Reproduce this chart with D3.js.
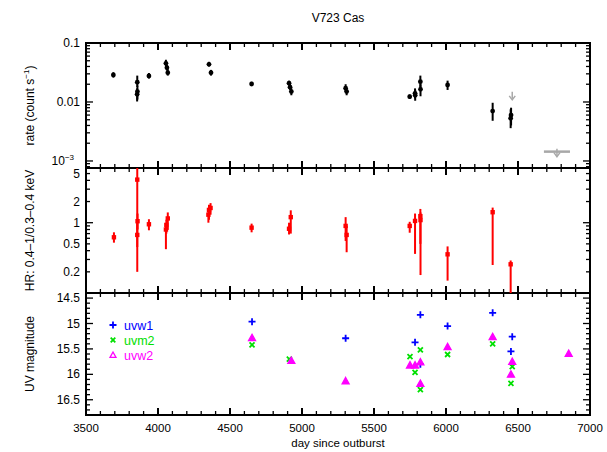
<!DOCTYPE html>
<html><head><meta charset="utf-8">
<script src="https://cdn.jsdelivr.net/npm/d3@7/dist/d3.min.js"></script>
<style>
body{margin:0;background:#fff;}
text{font-family:"Liberation Sans",Arial,Helvetica,sans-serif;}
</style></head>
<body><svg id="c" width="607" height="452"></svg>
<script>
// ---------- data ----------
const xTicks = [3500,4000,4500,5000,5500,6000,6500,7000];

// count rate panel
const rateDay = [3690,3856,3857,3855,3937,4055,4062,4068,4354,4368,4650,4910,4917,4926,5303,5310,5748,5785,5786,5822,5823,6011,6324,6449,6452];
const rateVal = [0.0287,0.0216,0.0150,0.0135,0.0276,0.0453,0.0382,0.0314,0.0435,0.0314,0.0202,0.0208,0.0178,0.0150,0.0171,0.0150,0.0123,0.0140,0.0130,0.0221,0.0164,0.0194,0.0070,0.0053,0.0060];
const rateLo  = [0.026,0.018,0.011,0.0102,0.025,0.040,0.034,0.028,0.040,0.028,0.0185,0.019,0.016,0.013,0.015,0.013,0.0113,0.0115,0.0105,0.017,0.0125,0.016,0.0048,0.0036,0.0040];
const rateHi  = [0.032,0.028,0.019,0.017,0.031,0.052,0.043,0.036,0.048,0.035,0.022,0.023,0.020,0.017,0.020,0.017,0.0134,0.017,0.016,0.028,0.020,0.023,0.0097,0.0075,0.0080];
// upper limits (grey)
const ulDayStart = [6460,6680];
const ulDayEnd   = [6460,6861];
const ulVal      = [0.0132,0.00144];
const rateTicks = [0.1,0.01,0.001];
const rateTickLabels = ["0.1","0.01","10"];

// hardness ratio panel
const hrDay = [3694,3856,3858,3856,3937,4055,4058,4068,4350,4354,4365,4650,4910,4922,5303,5310,5748,5785,5822,5823,6011,6324,6449];
const hrVal = [0.62,4.1,1.05,0.67,0.95,0.80,0.93,1.15,1.30,1.52,1.62,0.85,0.82,1.20,0.90,0.67,0.90,1.06,1.24,1.09,0.355,1.41,0.256];
const hrLo  = [0.52,0.20,0.80,0.45,0.78,0.42,0.70,0.79,1.00,1.10,1.30,0.73,0.68,0.70,0.55,0.38,0.72,0.36,0.50,0.18,0.15,0.25,0.05];
const hrHi  = [0.73,7.0,1.35,1.00,1.12,0.98,1.10,1.40,1.60,1.80,1.90,0.97,1.00,1.50,1.20,0.90,1.03,1.35,1.57,1.40,0.46,1.64,0.29];
const hrTicks = [0.2,0.5,1,2,5];

// UV panel
const uvw1Day = [4653,5303,5785,5822,5822,6011,6324,6451,6460];
const uvw1Mag = [14.965,15.29,15.37,14.83,15.80,15.05,14.79,15.55,15.26];
const uvm2Day = [4653,4912,5750,5785,5822,5822,6011,6324,6460,6451];
const uvm2Mag = [15.42,15.70,15.65,15.96,15.52,16.30,15.61,15.40,15.85,16.18];
const uvw2Day = [4653,4926,5303,5750,5785,5822,5822,6011,6324,6460,6451,6852];
const uvw2Mag = [15.28,15.73,16.13,15.82,15.82,15.76,16.18,15.46,15.26,15.75,16.00,15.59];
const uvTicks = [14.5,15,15.5,16,16.5];
const uvNames = ["uvw1","uvm2","uvw2"];
const uvColors = ["#0000ff","#00e000","#ff00ff"];

// ---------- layout ----------
const L = 86, R = 590;
const P1 = [43,168], P2 = [168,293], P3 = [293,415];
const svg = d3.select("#c");
const x = d3.scaleLinear().domain([3500,7000]).range([L,R]);
const y1 = d3.scaleLog().domain([7.6e-4,0.1]).range([P1[1],P1[0]]);
const y2 = d3.scaleLog().domain([0.1,6]).range([P2[1],P2[0]]);
const y3 = d3.scaleLinear().domain([14.4,16.8]).range([P3[0],P3[1]]);

// clip paths
function clip(id,P){
  svg.append("clipPath").attr("id",id).append("rect")
    .attr("x",L).attr("y",P[0]).attr("width",R-L).attr("height",P[1]-P[0]);
}
clip("c1",P1); clip("c2",P2); clip("c3",P3);

// ticks helper
const axG = svg.append("g").attr("stroke","#000").attr("stroke-width",1.3);
function xTickMarks(P){
  for(let d=3500; d<=7000; d+=100){
    const major = d%500===0;
    const len = major?7:4;
    const xx = x(d);
    axG.append("line").attr("x1",xx).attr("x2",xx).attr("y1",P[1]).attr("y2",P[1]-len).attr("stroke-width",major?2:1.3);
    axG.append("line").attr("x1",xx).attr("x2",xx).attr("y1",P[0]).attr("y2",P[0]+len).attr("stroke-width",major?2:1.3);
  }
}
function yTickMark(yy,major){
  const len = major?7:4;
  axG.append("line").attr("x1",L).attr("x2",L+len).attr("y1",yy).attr("y2",yy);
  axG.append("line").attr("x1",R).attr("x2",R-len).attr("y1",yy).attr("y2",yy);
}
[P1,P2,P3].forEach(xTickMarks);

// panel 1 y ticks (log)
[-4,-3,-2].forEach(e=>{
  for(let m=1;m<=9;m++){
    const v = m*Math.pow(10,e);
    if(v<y1.domain()[0]||v>y1.domain()[1]) continue;
    yTickMark(y1(v), m===1);
  }
});
yTickMark(y1(0.1),true);
// panel 2 y ticks (log)
[-1,0].forEach(e=>{
  for(let m=1;m<=9;m++){
    const v = m*Math.pow(10,e);
    if(v<y2.domain()[0]-1e-9||v>y2.domain()[1]) continue;
    yTickMark(y2(v), m===1);
  }
});
// panel 3 y ticks
for(let k=0;k<=24;k++){
  const v = 14.4 + k*0.1;
  const major = Math.abs(v*2-Math.round(v*2))<1e-6;
  yTickMark(y3(v), major);
}

// frames
[P1,P2,P3].forEach(P=>{
  svg.append("rect").attr("x",L).attr("y",P[0]).attr("width",R-L).attr("height",P[1]-P[0])
    .attr("fill","none").attr("stroke","#000").attr("stroke-width",2);
});

// tick labels
const fs = 12;
const tl = svg.append("g").attr("font-size",fs).attr("fill","#000");
xTicks.forEach(t=>{
  tl.append("text").attr("x",x(t)).attr("y",P3[1]+17).attr("text-anchor","middle").attr("font-size",11.5).text(t);
});
rateTicks.forEach((t,i)=>{
  const tx = tl.append("text").attr("x",L-6).attr("y",y1(t)+4).attr("text-anchor","end");
  if(i===2){
    tx.attr("x",L-12);
    tx.text(rateTickLabels[i]);
    tx.append("tspan").attr("font-size",8).attr("dy",-5).text("−3");
  } else tx.text(rateTickLabels[i]);
});
hrTicks.forEach(t=>{
  tl.append("text").attr("x",L-6).attr("y",y2(t)+4).attr("text-anchor","end").text(t);
});
uvTicks.forEach(t=>{
  tl.append("text").attr("x",L-6).attr("y",y3(t)+4).attr("text-anchor","end").text(t);
});

// axis titles
svg.append("text").attr("x",338).attr("y",22).attr("text-anchor","middle").attr("font-size",fs).text("V723 Cas");
svg.append("text").attr("x",338).attr("y",447).attr("text-anchor","middle").attr("font-size",11.5).text("day since outburst");
const yl1 = svg.append("text").attr("transform",`translate(34,${(P1[0]+P1[1])/2}) rotate(-90)`).attr("text-anchor","middle").attr("font-size",fs);
yl1.append("tspan").text("rate (count s");
yl1.append("tspan").attr("font-size",8).attr("dy",-5).text("−1");
yl1.append("tspan").attr("dy",5).text(")");
svg.append("text").attr("transform",`translate(34,${(P2[0]+P2[1])/2}) rotate(-90)`).attr("text-anchor","middle").attr("font-size",fs).text("HR: 0.4–1/0.3–0.4 keV");
svg.append("text").attr("transform",`translate(34,${(P3[0]+P3[1])/2}) rotate(-90)`).attr("text-anchor","middle").attr("font-size",fs).text("UV magnitude");

// ---------- panel 1 ----------
const g1 = svg.append("g").attr("clip-path","url(#c1)");
rateDay.forEach((d,i)=>{
  g1.append("line").attr("x1",x(d)).attr("x2",x(d)).attr("y1",y1(rateLo[i])).attr("y2",y1(rateHi[i]))
    .attr("stroke","#000").attr("stroke-width",2);
  g1.append("circle").attr("cx",x(d)).attr("cy",y1(rateVal[i])).attr("r",2.4).attr("fill","#000");
});
ulVal.forEach((v,i)=>{
  const xa = x(ulDayStart[i]), xb = x(ulDayEnd[i]), xm = (xa+xb)/2, yy = y1(v);
  const grey = "#a8a8a8";
  if(xb>xa) g1.append("line").attr("x1",xa).attr("x2",xb).attr("y1",yy).attr("y2",yy).attr("stroke",grey).attr("stroke-width",2.5);
  g1.append("line").attr("x1",xm).attr("x2",xm).attr("y1",yy-3).attr("y2",yy+4).attr("stroke",grey).attr("stroke-width",1.5);
  g1.append("path").attr("d",`M${xm-3},${yy+1}L${xm},${yy+5}L${xm+3},${yy+1}`).attr("fill","none").attr("stroke",grey).attr("stroke-width",1.5);
});

// ---------- panel 2 ----------
const g2 = svg.append("g").attr("clip-path","url(#c2)");
hrDay.forEach((d,i)=>{
  g2.append("line").attr("x1",x(d)).attr("x2",x(d)).attr("y1",y2(hrLo[i])).attr("y2",y2(hrHi[i]))
    .attr("stroke","#ff0000").attr("stroke-width",2);
  g2.append("rect").attr("x",x(d)-2.2).attr("y",y2(hrVal[i])-2.2).attr("width",4.4).attr("height",4.4).attr("fill","#ff0000");
});

// ---------- panel 3 ----------
const g3 = svg.append("g").attr("clip-path","url(#c3)");
function plus(g,cx,cy,c,s){ g.append("path").attr("d",`M${cx-s},${cy}H${cx+s}M${cx},${cy-s}V${cy+s}`).attr("stroke",c).attr("stroke-width",1.8).attr("fill","none"); }
function cross(g,cx,cy,c,s){ g.append("path").attr("d",`M${cx-s},${cy-s}L${cx+s},${cy+s}M${cx-s},${cy+s}L${cx+s},${cy-s}`).attr("stroke",c).attr("stroke-width",1.8).attr("fill","none"); }
function tri(g,cx,cy,c,s,fill){ g.append("path").attr("d",`M${cx},${cy-s}L${cx+s},${cy+s*0.8}L${cx-s},${cy+s*0.8}Z`).attr("stroke",c).attr("stroke-width",1.3).attr("fill",fill?c:"#fff"); }
uvm2Day.forEach((d,i)=>cross(g3,x(d),y3(uvm2Mag[i]),uvColors[1],2.5));
uvw1Day.forEach((d,i)=>plus(g3,x(d),y3(uvw1Mag[i]),uvColors[0],3.5));
uvw2Day.forEach((d,i)=>tri(g3,x(d),y3(uvw2Mag[i]),uvColors[2],3.5,true));

// legend
const lg = svg.append("g");
uvNames.forEach((n,i)=>{
  const yy = 325 + i*15, xx = 113;
  if(i===0) plus(lg,xx,yy,uvColors[0],3.5);
  if(i===1) cross(lg,xx,yy,uvColors[1],2.3);
  if(i===2) tri(lg,xx,yy,uvColors[2],3,false);
  lg.append("text").attr("x",124).attr("y",yy+4.5).attr("font-size",12.5).attr("fill",uvColors[i]).text(n);
});
</script></body></html>
